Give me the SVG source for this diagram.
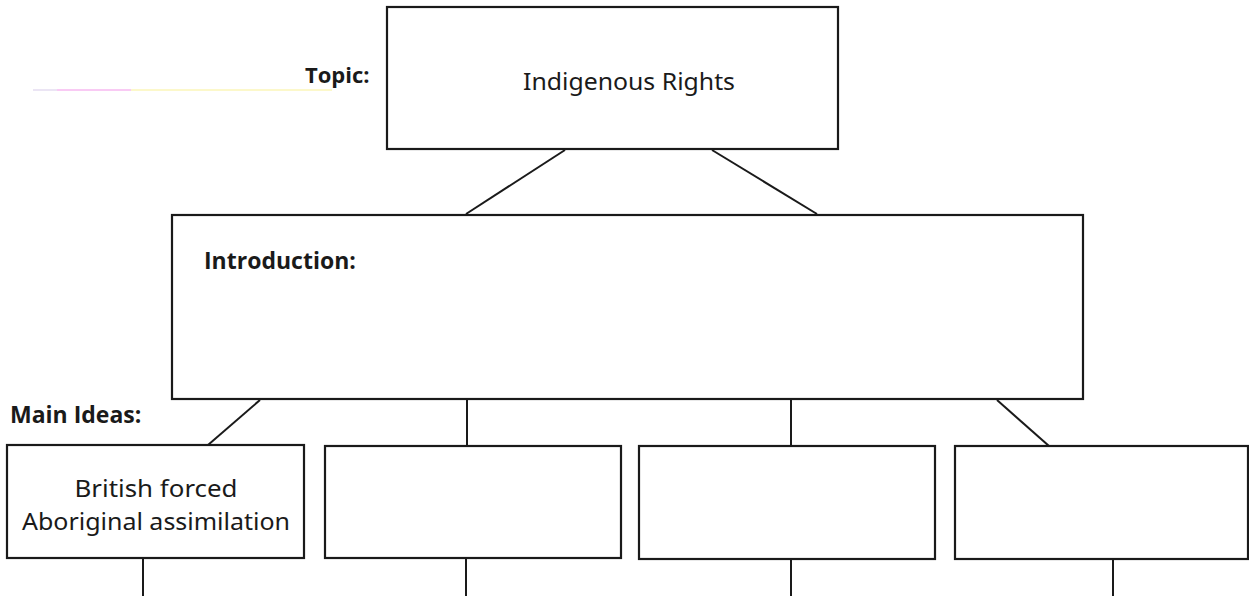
<svg xmlns="http://www.w3.org/2000/svg" width="1249" height="596" viewBox="0 0 1249 596">
<style>
.box{fill:#fff;stroke:#1a1a1a;stroke-width:2.2}
.ln{stroke:#1a1a1a;stroke-width:2;fill:none}
.lbl{font-family:"Open Sans","Liberation Sans",sans-serif;font-weight:bold;fill:#1a1a1a}
.hand{font-family:"Noto Sans","DejaVu Sans",sans-serif;fill:#1a1a1a}
</style>
<rect width="1249" height="596" fill="#fff"/>
<g id="topic-underline">
<line x1="33" y1="90" x2="57" y2="90" stroke="#e4dcf0" stroke-width="1.5"/>
<line x1="57" y1="90" x2="131" y2="90" stroke="#f7b8f0" stroke-width="1.5"/>
<line x1="131" y1="90" x2="332" y2="90" stroke="#fbf6b8" stroke-width="1.5"/>
</g>
<g id="connectors">
<line class="ln" x1="565" y1="150" x2="466" y2="214"/>
<line class="ln" x1="712" y1="150" x2="817" y2="214"/>
<line class="ln" x1="260" y1="400" x2="208" y2="445"/>
<line class="ln" x1="467" y1="400" x2="467" y2="446"/>
<line class="ln" x1="791" y1="400" x2="791" y2="446"/>
<line class="ln" x1="997" y1="400" x2="1049" y2="446"/>
<line class="ln" x1="143" y1="558" x2="143" y2="596"/>
<line class="ln" x1="466" y1="558" x2="466" y2="596"/>
<line class="ln" x1="791" y1="559" x2="791" y2="596"/>
<line class="ln" x1="1113" y1="559" x2="1113" y2="596"/>
</g>
<text class="lbl" x="305" y="83" font-size="22">Topic:</text>
<text class="lbl" x="10" y="423" font-size="23">Main Ideas:</text>
<g id="topic">
<rect class="box" x="387" y="7" width="451" height="142"/>
<text class="hand" x="629" y="90" font-size="24" text-anchor="middle" textLength="212" lengthAdjust="spacingAndGlyphs">Indigenous Rights</text>
</g>
<g id="introduction">
<rect class="box" x="172" y="215" width="911" height="184"/>
<text class="lbl" x="204" y="269" font-size="23">Introduction:</text>
</g>
<g id="idea1">
<rect class="box" x="7" y="445" width="297" height="113"/>
<text class="hand" x="156" y="497" font-size="24" text-anchor="middle" textLength="163" lengthAdjust="spacingAndGlyphs">British forced</text>
<text class="hand" x="156" y="530" font-size="24" text-anchor="middle" textLength="268" lengthAdjust="spacingAndGlyphs">Aboriginal assimilation</text>
</g>
<g id="idea2"><rect class="box" x="325" y="446" width="296" height="112"/></g>
<g id="idea3"><rect class="box" x="639" y="446" width="296" height="113"/></g>
<g id="idea4"><rect class="box" x="955" y="446" width="293" height="113"/></g>
</svg>
